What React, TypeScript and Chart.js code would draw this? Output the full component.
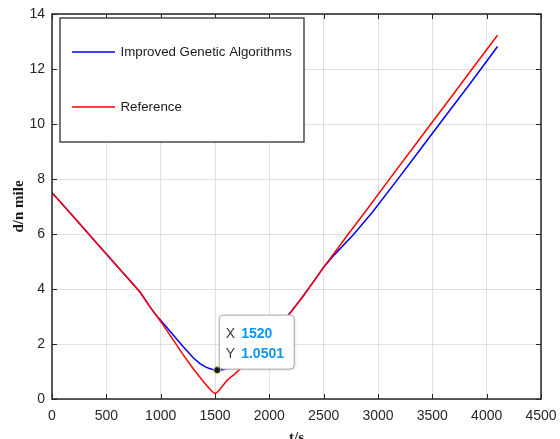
import React, { useEffect, useRef } from 'react';
import { Chart, registerables } from 'chart.js';

Chart.register(...registerables);

// ---- data ----
const X_TICKS = [0, 500, 1000, 1500, 2000, 2500, 3000, 3500, 4000, 4500];
const Y_TICKS = [0, 2, 4, 6, 8, 10, 12, 14];

const IGA_LABEL = 'Improved Genetic Algorithms';
const REF_LABEL = 'Reference';

const igaT = [0, 200, 400, 600, 810, 900, 960, 1000, 1100, 1208, 1300, 1362, 1420, 1470, 1520, 1570, 1650, 1800, 1950, 2100, 2200, 2300, 2400, 2500, 2600, 2779, 2950, 3172, 3380, 3600, 3850, 4100];
const igaD = [7.5, 6.62, 5.72, 4.83, 3.89, 3.36, 3.04, 2.86, 2.4, 1.9, 1.5, 1.29, 1.15, 1.08, 1.05, 1.06, 1.15, 1.55, 2.1, 2.7, 3.17, 3.68, 4.23, 4.79, 5.25, 6.0, 6.8, 7.94, 9.03, 10.18, 11.48, 12.82];

const refT = [0, 200, 400, 600, 810, 900, 1000, 1100, 1200, 1300, 1400, 1440, 1470, 1490, 1500, 1515, 1540, 1575, 1608, 1640, 1670, 1730, 1800, 1900, 2000, 2100, 2200, 2300, 2400, 2500, 2600, 2727, 2900, 3095, 3300, 3500, 3700, 3900, 4100];
const refD = [7.5, 6.62, 5.72, 4.83, 3.89, 3.36, 2.82, 2.24, 1.65, 1.1, 0.6, 0.42, 0.29, 0.22, 0.2, 0.23, 0.33, 0.5, 0.66, 0.78, 0.87, 1.08, 1.32, 1.72, 2.16, 2.65, 3.17, 3.68, 4.23, 4.79, 5.32, 6.0, 6.9, 7.94, 9.02, 10.07, 11.12, 12.18, 13.23];

const MARK_T = 1520;
const MARK_D = 1.0501;

const SANS = '"Liberation Sans", Arial, sans-serif';
const SERIF = '"Liberation Serif", "Times New Roman", serif';

const framePlugin = {
  id: 'matlabFrame',
  afterDatasetsDraw(chart: any) {
    const { ctx, chartArea: a, scales } = chart;
    const xs = scales.x;
    const ys = scales.y;
    ctx.save();

    // frame
    ctx.strokeStyle = '#262626';
    ctx.lineWidth = 1.5;
    ctx.strokeRect(a.left, a.top, a.right - a.left, a.bottom - a.top);

    // inside ticks
    ctx.lineWidth = 1;
    ctx.beginPath();
    for (const v of X_TICKS) {
      const px = Math.round(xs.getPixelForValue(v)) + 0.5;
      ctx.moveTo(px, a.bottom); ctx.lineTo(px, a.bottom - 5);
      ctx.moveTo(px, a.top); ctx.lineTo(px, a.top + 5);
    }
    for (const v of Y_TICKS) {
      const py = Math.round(ys.getPixelForValue(v)) + 0.5;
      ctx.moveTo(a.left, py); ctx.lineTo(a.left + 5, py);
      ctx.moveTo(a.right, py); ctx.lineTo(a.right - 5, py);
    }
    ctx.stroke();

    // legend
    const lx = a.left + 8, ly = a.top + 4, lw = 244, lh = 124;
    ctx.fillStyle = '#ffffff';
    ctx.fillRect(lx, ly, lw, lh);
    ctx.strokeStyle = '#4a4a4a';
    ctx.lineWidth = 1.5;
    ctx.strokeRect(lx, ly, lw, lh);
    const items = chart.data.datasets.map((d: any) => ({ label: d.label, color: d.borderColor }));
    const rows = [ly + 34, ly + 89];
    ctx.font = `13.3px ${SANS}`;
    ctx.textBaseline = 'middle';
    ctx.textAlign = 'left';
    items.forEach((it: any, i: number) => {
      const y = rows[i];
      ctx.strokeStyle = it.color;
      ctx.lineWidth = 1.5;
      ctx.beginPath();
      ctx.moveTo(lx + 12, y); ctx.lineTo(lx + 55, y);
      ctx.stroke();
      ctx.fillStyle = '#1a1a1a';
      ctx.fillText(it.label, lx + 60.5, y + 0.5);
    });

    // data tip
    const px = xs.getPixelForValue(MARK_T);
    const py = ys.getPixelForValue(MARK_D);
    const bx = px + 2, by = py - 55, bw = 75, bh = 54, r = 4;
    ctx.save();
    ctx.shadowColor = 'rgba(0,0,0,0.15)';
    ctx.shadowBlur = 3;
    ctx.shadowOffsetX = 1;
    ctx.shadowOffsetY = 1;
    ctx.beginPath();
    ctx.moveTo(bx + r, by);
    ctx.lineTo(bx + bw - r, by);
    ctx.arcTo(bx + bw, by, bx + bw, by + r, r);
    ctx.lineTo(bx + bw, by + bh - r);
    ctx.arcTo(bx + bw, by + bh, bx + bw - r, by + bh, r);
    ctx.lineTo(bx + r, by + bh);
    ctx.arcTo(bx, by + bh, bx, by + bh - r, r);
    ctx.lineTo(bx, by + r);
    ctx.arcTo(bx, by, bx + r, by, r);
    ctx.closePath();
    ctx.fillStyle = '#ffffff';
    ctx.fill();
    ctx.restore();
    ctx.strokeStyle = '#a8a8a8';
    ctx.lineWidth = 1;
    ctx.stroke();

    ctx.textBaseline = 'alphabetic';
    ctx.textAlign = 'left';
    ctx.font = `14px ${SANS}`;
    ctx.fillStyle = '#3a3a3a';
    ctx.fillText('X', bx + 6.5, by + 22.5);
    ctx.fillText('Y', bx + 6.5, by + 42.5);
    ctx.font = `bold 14px ${SANS}`;
    ctx.fillStyle = '#0a96f5';
    ctx.fillText(String(MARK_T), bx + 22, by + 22.5);
    ctx.fillText(MARK_D.toFixed(4), bx + 22, by + 42.5);

    // marker
    ctx.beginPath();
    ctx.arc(px, py, 3.5, 0, Math.PI * 2);
    ctx.fillStyle = '#1a1a1a';
    ctx.fill();
    ctx.strokeStyle = '#d6cf8c';
    ctx.lineWidth = 1;
    ctx.stroke();

    // axis titles
    ctx.fillStyle = '#1a1a1a';
    ctx.font = `bold 15px ${SERIF}`;
    ctx.textAlign = 'center';
    ctx.textBaseline = 'alphabetic';
    ctx.fillText('t/s', (a.left + a.right) / 2, 442);
    ctx.save();
    ctx.translate(22.5, (a.top + a.bottom) / 2);
    ctx.rotate(-Math.PI / 2);
    ctx.fillText('d/n mile', 0, 0);
    ctx.restore();

    ctx.restore();
  },
};

export default function App() {
  const ref = useRef<HTMLCanvasElement | null>(null);

  useEffect(() => {
    if (!ref.current) return;
    const toPts = (t: number[], d: number[]) => t.map((x, i) => ({ x, y: d[i] }));
    const chart = new Chart(ref.current, {
      type: 'line',
      data: {
        datasets: [
          {
            label: IGA_LABEL,
            data: toPts(igaT, igaD),
            borderColor: '#0000ff',
            borderWidth: 1.5,
            pointRadius: 0,
            tension: 0,
            order: 1,
            fill: false,
          },
          {
            label: REF_LABEL,
            data: toPts(refT, refD),
            borderColor: '#ff0000',
            borderWidth: 1.5,
            pointRadius: 0,
            tension: 0,
            order: 0,
            fill: false,
          },
        ],
      },
      options: {
        responsive: false,
        animation: false,
        devicePixelRatio: 1,
        layout: { padding: { top: 14, right: 19, left: 0, bottom: 0 } },
        plugins: {
          legend: { display: false },
          tooltip: { enabled: false },
        },
        events: [],
        scales: {
          x: {
            type: 'linear',
            min: X_TICKS[0],
            max: X_TICKS[X_TICKS.length - 1],
            afterBuildTicks: (s: any) => { s.ticks = X_TICKS.map((v) => ({ value: v })); },
            afterFit: (s: any) => { s.height = 40; s.paddingLeft = 0; s.paddingRight = 0; },
            grid: { color: 'rgba(38,38,38,0.14)', lineWidth: 1, drawTicks: false },
            border: { display: false },
            ticks: {
              padding: 9,
              color: '#262626',
              font: { family: SANS, size: 14 },
              maxRotation: 0,
              autoSkip: false,
              callback: (v: any) => String(v),
            },
          },
          y: {
            type: 'linear',
            min: Y_TICKS[0],
            max: Y_TICKS[Y_TICKS.length - 1],
            afterBuildTicks: (s: any) => { s.ticks = Y_TICKS.map((v) => ({ value: v })); },
            afterFit: (s: any) => { s.width = 52; s.paddingTop = 0; s.paddingBottom = 0; },
            grid: { color: 'rgba(38,38,38,0.14)', lineWidth: 1, drawTicks: false },
            border: { display: false },
            ticks: {
              padding: 7,
              color: '#262626',
              font: { family: SANS, size: 14 },
              autoSkip: false,
              callback: (v: any) => String(v),
            },
          },
        },
      },
      plugins: [framePlugin],
    } as any);
    return () => chart.destroy();
  }, []);

  return (
    <div style={{ position: 'fixed', left: 0, top: 0, width: 560, height: 439, background: '#fff' }}>
      <canvas ref={ref} width={560} height={439} style={{ display: 'block' }} />
    </div>
  );
}
